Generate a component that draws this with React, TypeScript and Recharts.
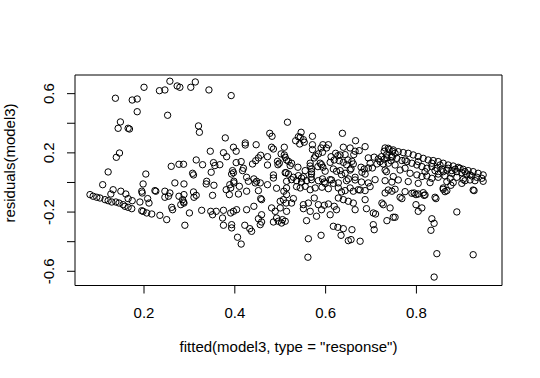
import { ScatterChart, Scatter, XAxis, YAxis, ReferenceArea } from "recharts";

// fitted value, residual pairs, grouped by region
const upperLeft: [number, number][] = [
  [0.2, 0.643], [0.257, 0.684], [0.234, 0.62], [0.246, 0.625], [0.273, 0.652], [0.279, 0.643],
  [0.137, 0.569], [0.174, 0.557], [0.185, 0.564], [0.185, 0.478], [0.252, 0.454], [0.148, 0.409],
  [0.143, 0.366], [0.165, 0.366], [0.168, 0.361], [0.313, 0.679], [0.303, 0.643], [0.343, 0.625],
  [0.392, 0.587], [0.32, 0.382], [0.322, 0.339],
];

const leftMid: [number, number][] = [
  [0.146, 0.199], [0.139, 0.17], [0.26, 0.109], [0.277, 0.123], [0.287, 0.123], [0.121, 0.071],
  [0.204, 0.057], [0.379, 0.301], [0.477, 0.332], [0.482, 0.312], [0.423, 0.267], [0.423, 0.253],
  [0.447, 0.255], [0.397, 0.238], [0.403, 0.211], [0.481, 0.238], [0.485, 0.226], [0.509, 0.238],
  [0.346, 0.211], [0.375, 0.201], [0.382, 0.174], [0.502, 0.193], [0.509, 0.186], [0.514, 0.152],
  [0.457, 0.184], [0.452, 0.166], [0.446, 0.147], [0.439, 0.125], [0.472, 0.174], [0.315, 0.152],
  [0.414, 0.141], [0.403, 0.134], [0.419, 0.096], [0.417, 0.08], [0.353, 0.134], [0.356, 0.114],
  [0.367, 0.12], [0.329, 0.12], [0.472, 0.118], [0.494, 0.143], [0.498, 0.13], [0.495, 0.12],
  [0.395, 0.08], [0.397, 0.066], [0.393, 0.057], [0.348, 0.069], [0.513, 0.066], [0.307, 0.062],
  [0.309, 0.051], [0.485, 0.051], [0.426, 0.035], [0.442, 0.024], [0.338, 0.008], [0.398, 0.008],
  [0.43, 0.008], [0.448, 0.008],
];

const centerUpper: [number, number][] = [
  [0.516, 0.407], [0.637, 0.332], [0.546, 0.339], [0.54, 0.309], [0.544, 0.305], [0.551, 0.289],
  [0.534, 0.282], [0.543, 0.26], [0.553, 0.272], [0.571, 0.312], [0.666, 0.282], [0.571, 0.255],
  [0.571, 0.222], [0.594, 0.255], [0.606, 0.255], [0.602, 0.233], [0.59, 0.233], [0.593, 0.204],
  [0.639, 0.238], [0.687, 0.242], [0.731, 0.233], [0.74, 0.222], [0.747, 0.211], [0.729, 0.211],
  [0.654, 0.233], [0.665, 0.211], [0.674, 0.215], [0.662, 0.188], [0.578, 0.179], [0.584, 0.193],
  [0.575, 0.166], [0.612, 0.174], [0.622, 0.197], [0.627, 0.181], [0.63, 0.147], [0.619, 0.152],
  [0.61, 0.136], [0.643, 0.188], [0.649, 0.152], [0.639, 0.136], [0.658, 0.143], [0.646, 0.12],
  [0.661, 0.125], [0.656, 0.093], [0.694, 0.166], [0.707, 0.171], [0.716, 0.159], [0.723, 0.174],
  [0.729, 0.157], [0.735, 0.166], [0.744, 0.147], [0.747, 0.171], [0.72, 0.141], [0.713, 0.125],
  [0.727, 0.125], [0.703, 0.098], [0.694, 0.098], [0.685, 0.091], [0.68, 0.069], [0.678, 0.103],
  [0.687, 0.057], [0.511, 0.17], [0.518, 0.143], [0.525, 0.13], [0.522, 0.114], [0.539, 0.103],
  [0.566, 0.13], [0.566, 0.111], [0.569, 0.091], [0.555, 0.08], [0.583, 0.107], [0.591, 0.12],
  [0.594, 0.103], [0.599, 0.076], [0.617, 0.091], [0.624, 0.076], [0.632, 0.08], [0.635, 0.053],
  [0.643, 0.062], [0.511, 0.066], [0.518, 0.057], [0.529, 0.035], [0.54, 0.046], [0.547, 0.03],
  [0.569, 0.057], [0.568, 0.035], [0.593, 0.024], [0.613, 0.017], [0.65, 0.024], [0.665, 0.035],
  [0.588, 0.13], [0.569, 0.073], [0.599, -0.006], [0.632, 0.186], [0.654, 0.084], [0.665, 0.017],
  [0.698, 0.13], [0.731, 0.084], [0.698, -0.028], [0.536, -0.028], [0.492, -0.039], [0.551, 0.039],
  [0.617, -0.006], [0.676, -0.051],
];

const rightBand: [number, number][] = [
  [0.738, 0.231], [0.749, 0.22], [0.76, 0.208], [0.771, 0.202], [0.782, 0.197], [0.793, 0.186],
  [0.804, 0.175], [0.815, 0.163], [0.826, 0.152], [0.837, 0.148], [0.848, 0.141], [0.859, 0.13],
  [0.87, 0.118], [0.881, 0.111], [0.892, 0.102], [0.903, 0.089], [0.914, 0.08], [0.925, 0.073],
  [0.936, 0.062], [0.947, 0.051],
  [0.734, 0.186], [0.745, 0.175], [0.757, 0.163], [0.768, 0.148], [0.779, 0.141], [0.79, 0.13],
  [0.801, 0.118], [0.812, 0.107], [0.823, 0.096], [0.834, 0.107], [0.845, 0.096], [0.856, 0.089],
  [0.867, 0.084], [0.878, 0.08], [0.889, 0.073], [0.9, 0.066], [0.911, 0.057], [0.922, 0.044],
  [0.933, 0.035], [0.944, 0.028],
  [0.834, 0.13], [0.852, 0.118], [0.87, 0.096], [0.885, 0.089], [0.896, 0.096], [0.841, 0.08],
  [0.859, 0.073], [0.907, 0.073], [0.819, 0.073], [0.775, 0.152], [0.753, 0.197], [0.804, 0.141],
  [0.918, 0.051], [0.878, 0.062], [0.848, 0.057],
  [0.738, 0.13], [0.753, 0.118], [0.764, 0.084], [0.775, 0.096], [0.786, 0.062], [0.801, 0.051],
  [0.812, 0.04], [0.823, 0.044], [0.834, 0.028], [0.848, 0.035], [0.863, 0.044], [0.874, 0.028],
  [0.889, 0.035], [0.903, 0.021], [0.918, 0.017],
  [0.734, 0.073], [0.749, 0.04], [0.76, 0.017], [0.782, 0.006], [0.804, -0.006], [0.83, -0.001],
  [0.867, 0.006], [0.881, -0.001], [0.9, -0.006],
  [0.738, -0.051], [0.753, -0.046], [0.775, -0.062], [0.79, -0.073], [0.804, -0.078], [0.815, -0.069],
  [0.819, -0.084], [0.859, -0.046], [0.863, -0.062], [0.925, -0.051], [0.764, -0.1], [0.841, -0.1],
  [0.876, -0.019], [0.859, -0.037], [0.867, -0.055], [0.947, 0.008], [0.929, 0.012], [0.907, 0.012],
];

const rightLow: [number, number][] = [
  [0.768, -0.109], [0.795, -0.071], [0.799, -0.082], [0.817, -0.087], [0.843, -0.109], [0.799, -0.15],
  [0.804, -0.195], [0.812, -0.172], [0.753, -0.235], [0.889, -0.199], [0.927, -0.055], [0.834, -0.245],
  [0.839, -0.276], [0.832, -0.323], [0.845, -0.481], [0.925, -0.488], [0.839, -0.639],
];

const leftLow: [number, number][] = [
  [0.109, -0.015], [0.198, -0.01], [0.195, -0.059], [0.196, -0.071], [0.224, -0.055], [0.226, -0.059],
  [0.132, -0.049], [0.127, -0.078], [0.149, -0.059], [0.16, -0.078], [0.165, -0.109], [0.174, -0.123],
  [0.081, -0.082], [0.088, -0.093], [0.096, -0.1], [0.103, -0.105], [0.114, -0.116], [0.121, -0.123],
  [0.129, -0.132], [0.138, -0.132], [0.145, -0.139], [0.154, -0.15], [0.158, -0.161], [0.165, -0.168],
  [0.173, -0.177], [0.191, -0.132], [0.208, -0.109], [0.211, -0.139], [0.195, -0.191], [0.198, -0.195],
  [0.206, -0.206], [0.217, -0.213], [0.235, -0.222], [0.25, -0.251], [0.246, -0.059], [0.257, -0.071],
  [0.254, -0.093], [0.246, -0.1], [0.268, -0.003], [0.277, -0.093], [0.261, -0.168], [0.263, -0.184],
  [0.281, -0.15], [0.287, -0.132], [0.29, -0.289],
];

const centerLow: [number, number][] = [
  [0.288, -0.01], [0.337, -0.01], [0.354, -0.019], [0.389, -0.015], [0.398, -0.003], [0.41, -0.026],
  [0.445, -0.003], [0.456, -0.003], [0.472, -0.015], [0.381, -0.049], [0.391, -0.037], [0.388, -0.082],
  [0.408, -0.078], [0.426, -0.059], [0.452, -0.055], [0.457, -0.109], [0.288, -0.082], [0.285, -0.116],
  [0.288, -0.139], [0.309, -0.064], [0.315, -0.087], [0.31, -0.1], [0.351, -0.087], [0.3, -0.206],
  [0.327, -0.188], [0.347, -0.195], [0.351, -0.218], [0.359, -0.195], [0.375, -0.188], [0.391, -0.206],
  [0.397, -0.195], [0.404, -0.184], [0.373, -0.24], [0.375, -0.289], [0.393, -0.285], [0.393, -0.307],
  [0.426, -0.184], [0.442, -0.161], [0.459, -0.116], [0.422, -0.289], [0.433, -0.312], [0.437, -0.33],
  [0.406, -0.37], [0.414, -0.416], [0.452, -0.245], [0.459, -0.267], [0.456, -0.285], [0.481, -0.172],
  [0.489, -0.195], [0.5, -0.172], [0.507, -0.116], [0.513, -0.139], [0.492, -0.24], [0.485, -0.267],
  [0.496, -0.262], [0.505, -0.251], [0.503, -0.274], [0.459, -0.218], [0.485, 0.03], [0.514, -0.037],
  [0.508, -0.059], [0.5, -0.127],
  [0.514, 0.008], [0.525, 0.019], [0.536, 0.012], [0.547, 0.003], [0.558, 0.012], [0.569, 0.019],
  [0.584, 0.012], [0.597, 0.003], [0.61, 0.019], [0.628, -0.003], [0.646, 0.012], [0.679, 0.003],
  [0.694, -0.003], [0.709, 0.019], [0.731, 0.012], [0.746, 0.003],
  [0.544, -0.037], [0.555, -0.026], [0.566, -0.049], [0.577, -0.037], [0.592, -0.032], [0.606, -0.042],
  [0.628, -0.037], [0.635, -0.064], [0.643, -0.055], [0.654, -0.037], [0.661, -0.059], [0.672, -0.049],
  [0.687, -0.055],
  [0.514, -0.082], [0.529, -0.109], [0.525, -0.139], [0.514, -0.195], [0.511, -0.262], [0.551, -0.15],
  [0.562, -0.139], [0.551, -0.177], [0.566, -0.195], [0.558, -0.258], [0.58, -0.228], [0.575, -0.105],
  [0.584, -0.15], [0.591, -0.184], [0.597, -0.154], [0.606, -0.145], [0.619, -0.161], [0.624, -0.184],
  [0.61, -0.218], [0.628, -0.105], [0.639, -0.116], [0.65, -0.127], [0.661, -0.139], [0.665, -0.184],
  [0.687, -0.116], [0.69, -0.177], [0.705, -0.206], [0.71, -0.213], [0.724, -0.139], [0.727, -0.15],
  [0.742, -0.172], [0.731, -0.071], [0.746, -0.059], [0.749, -0.235], [0.735, -0.258], [0.617, -0.296],
  [0.627, -0.303], [0.639, -0.312], [0.658, -0.319], [0.65, -0.393], [0.656, -0.386], [0.676, -0.397],
  [0.634, -0.357], [0.705, -0.285], [0.707, -0.319], [0.562, -0.38], [0.59, -0.357], [0.561, -0.505],
];

const xTicks = [0.2, 0.4, 0.6, 0.8];
const yTicks = [-0.6, -0.4, -0.2, 0, 0.2, 0.4, 0.6];
const yLabelled = [-0.6, -0.2, 0.2, 0.6];

const X_DOMAIN: [number, number] = [0.048, 0.9885];
const Y_DOMAIN: [number, number] = [-0.696, 0.726];

const points = [
  ...upperLeft, ...leftMid, ...centerUpper, ...rightBand, ...rightLow, ...leftLow, ...centerLow,
].map(([fitted, resid]) => ({ fitted, resid }));

const FONT = "'Liberation Sans', Arial, sans-serif";

function XTick({ x, y, payload }: any) {
  return (
    <text x={x} y={y + 24} textAnchor="middle" fontSize={15} fontFamily={FONT} fill="#000">
      {String(payload.value)}
    </text>
  );
}

function YTick({ x, y, payload }: any) {
  const v = payload.value;
  if (!yLabelled.some((t) => Math.abs(t - v) < 1e-9)) return <g />;
  const bx = x - 12.5;
  return (
    <text
      x={bx}
      y={y}
      transform={`rotate(-90, ${bx}, ${y})`}
      textAnchor="middle"
      fontSize={15}
      fontFamily={FONT}
      fill="#000"
    >
      {String(v)}
    </text>
  );
}

const ring = (p: any) => (
  <circle cx={p.cx} cy={p.cy} r={3.2} fill="none" stroke="#000" strokeWidth={1} />
);

export default function App() {
  return (
    <div style={{ position: "absolute", left: 0, top: 0, width: 540, height: 378, background: "#fff" }}>
      <ScatterChart width={540} height={378} margin={{ top: 75, right: 38, bottom: 32.5, left: 0 }}>
        <XAxis
          type="number"
          dataKey="fitted"
          domain={X_DOMAIN}
          ticks={xTicks}
          allowDataOverflow
          axisLine={false}
          tickSize={8}
          tickMargin={0}
          tickLine={{ stroke: "#000" }}
          tick={<XTick />}
          height={60}
        />
        <YAxis
          type="number"
          dataKey="resid"
          domain={Y_DOMAIN}
          ticks={yTicks}
          allowDataOverflow
          axisLine={false}
          tickSize={8}
          tickMargin={0}
          tickLine={{ stroke: "#000" }}
          tick={<YTick />}
          width={75}
        />
        <ReferenceArea
          x1={X_DOMAIN[0]}
          x2={X_DOMAIN[1]}
          y1={Y_DOMAIN[0]}
          y2={Y_DOMAIN[1]}
          fill="none"
          stroke="#000"
          strokeWidth={1}
          ifOverflow="visible"
        />
        <Scatter data={points} shape={ring} isAnimationActive={false} />
      </ScatterChart>
      <div
        style={{
          position: "absolute", left: 0, top: 338, width: 577, textAlign: "center",
          font: `15px ${FONT}`, color: "#000", pointerEvents: "none",
        }}
      >
        fitted(model3, type = "response")
      </div>
      <svg width={30} height={378} style={{ position: "absolute", left: 0, top: 0 }}>
        <text
          x={15}
          y={163}
          transform="rotate(-90, 15, 163)"
          textAnchor="middle"
          fontSize={15}
          fontFamily={FONT}
          fill="#000"
        >
          residuals(model3)
        </text>
      </svg>
    </div>
  );
}
